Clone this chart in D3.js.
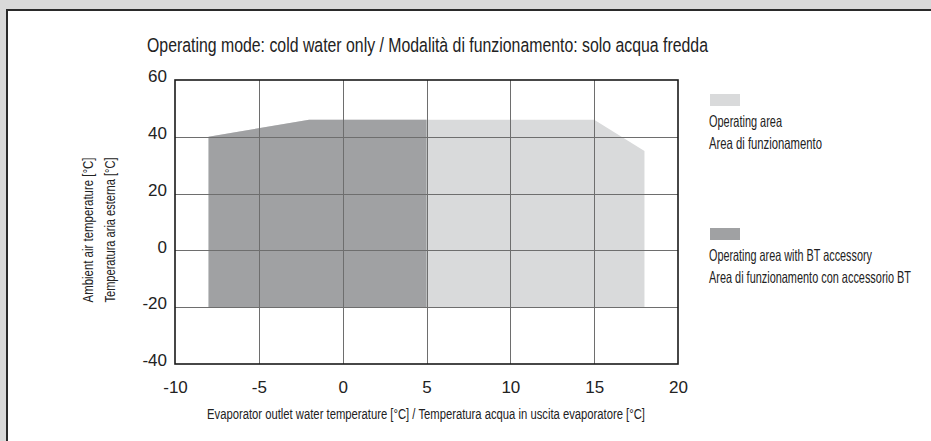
<!DOCTYPE html>
<html>
<head>
<meta charset="utf-8">
<script src="https://cdn.jsdelivr.net/npm/d3@7"></script>
<style>
  body { margin: 0; background: #d9d9d9; }
  svg { display: block; }
  .cond { font-family: "Liberation Sans Narrow", "Liberation Sans", Arial, sans-serif; fill: #222; }
  .tick text { font-family: "Liberation Sans", Arial, sans-serif; font-size: 17px; fill: #222; }
</style>
</head>
<body>
<div id="chart"></div>
<script>
// axis ticks
var xTicks = [-10, -5, 0, 5, 10, 15, 20];
var yTicks = [-40, -20, 0, 20, 40, 60];

// envelope outlines, [water temp, air temp]
var operatingArea = [[-8, -20], [-8, 40], [-2, 46], [15, 46], [18, 35], [18, -20]];
var btArea = [[-8, -20], [-8, 40], [-2, 46], [5, 46], [5, -20]];

var legendItems = [
  { color: "#d9dadb", lines: ["Operating area", "Area di funzionamento"] },
  { color: "#a0a1a3", lines: ["Operating area with BT accessory", "Area di funzionamento con accessorio BT"] }
];

var width = 931, height = 441;
var plot = { left: 175, right: 678, top: 80, bottom: 364 };

var svg = d3.select("#chart").append("svg")
  .attr("width", width)
  .attr("height", height);

// no condensed face installed, so squeeze text to the width it has in the original
function fit(sel, w) {
  sel.attr("textLength", w).attr("lengthAdjust", "spacingAndGlyphs");
}

// white sheet with dark edge
svg.append("rect")
  .attr("x", 7).attr("y", 10)
  .attr("width", width + 20).attr("height", height + 20)
  .attr("fill", "#fff")
  .attr("stroke", "#2a2a2a")
  .attr("stroke-width", 2);

var x = d3.scaleLinear().domain([-10, 20]).range([plot.left, plot.right]);
var y = d3.scaleLinear().domain([-40, 60]).range([plot.bottom, plot.top]);

var line = d3.line().x(d => x(d[0])).y(d => y(d[1]));

svg.append("path")
  .attr("d", line(operatingArea) + "Z")
  .attr("fill", legendItems[0].color);

svg.append("path")
  .attr("d", line(btArea) + "Z")
  .attr("fill", legendItems[1].color);

// grid
var grid = svg.append("g").attr("stroke", "#6e6e6e").attr("stroke-width", 1);
grid.selectAll(".vx")
  .data(xTicks.slice(1, -1)).enter()
  .append("line")
  .attr("x1", d => Math.round(x(d)) + 0.5).attr("x2", d => Math.round(x(d)) + 0.5)
  .attr("y1", plot.top).attr("y2", plot.bottom);
grid.selectAll(".hy")
  .data(yTicks.slice(1, -1)).enter()
  .append("line")
  .attr("y1", d => Math.round(y(d)) + 0.5).attr("y2", d => Math.round(y(d)) + 0.5)
  .attr("x1", plot.left).attr("x2", plot.right);

// frame
svg.append("rect")
  .attr("x", plot.left).attr("y", plot.top)
  .attr("width", plot.right - plot.left).attr("height", plot.bottom - plot.top)
  .attr("fill", "none")
  .attr("stroke", "#1a1a1a")
  .attr("stroke-width", 1.6);

// axes (labels only, plain hyphen for negatives)
var xAxis = d3.axisBottom(x).tickValues(xTicks).tickFormat(d => String(d)).tickSize(0).tickPadding(20);
var yAxis = d3.axisLeft(y).tickValues(yTicks).tickFormat(d => String(d)).tickSize(0).tickPadding(8);

var gx = svg.append("g")
  .attr("transform", "translate(0," + plot.bottom + ")")
  .call(xAxis);
var gy = svg.append("g")
  .attr("transform", "translate(" + plot.left + ",0)")
  .call(yAxis);
gx.select(".domain").remove();
gy.select(".domain").remove();
gy.selectAll("text").attr("dy", "0.1em");
gx.selectAll("text").attr("dy", "0.55em");

// title
svg.append("text")
  .attr("class", "cond")
  .attr("x", 147).attr("y", 52)
  .attr("font-size", 20.5)
  .text("Operating mode: cold water only / Modalità di funzionamento: solo acqua fredda")
  .call(fit, 561);

// x axis title
svg.append("text")
  .attr("class", "cond")
  .attr("x", 207).attr("y", 419)
  .attr("font-size", 15.5)
  .text("Evaporator outlet water temperature [°C] /  Temperatura acqua in uscita evaporatore [°C]")
  .call(fit, 438);

// y axis title, two lines
var yTitle = ["Ambient air temperature [°C]", "Temperatura aria esterna [°C]"];
svg.selectAll(".ytitle")
  .data(yTitle).enter()
  .append("text")
  .attr("class", "cond")
  .attr("font-size", 15.5)
  .attr("text-anchor", "middle")
  .attr("transform", (d, i) => "translate(" + (93 + i * 22) + ",230) rotate(-90)")
  .text(d => d)
  .call(fit, 145);

// legend
var legendWidths = [[73, 113], [163, 202]];
var lg = svg.selectAll(".legend")
  .data(legendItems).enter()
  .append("g")
  .attr("transform", (d, i) => "translate(709," + (94 + i * 134) + ")");
lg.append("rect")
  .attr("x", 1).attr("width", 30).attr("height", 12)
  .attr("fill", d => d.color);
lg.each(function(d, k) {
  d3.select(this).selectAll("text")
    .data(d.lines).enter()
    .append("text")
    .attr("class", "cond")
    .attr("font-size", 16.5)
    .attr("x", 0)
    .attr("y", (t, i) => 33 + i * 22)
    .attr("textLength", (t, i) => legendWidths[k][i])
    .attr("lengthAdjust", "spacingAndGlyphs")
    .text(t => t);
});
</script>
</body>
</html>
